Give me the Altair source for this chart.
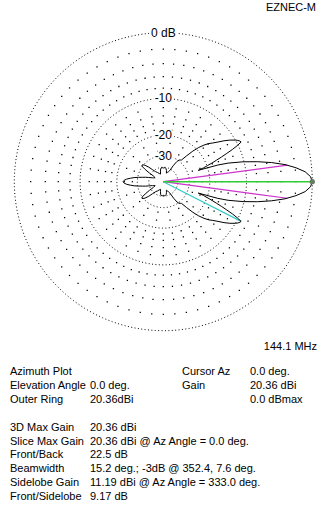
import altair as alt
import pandas as pd
import numpy as np

# ---------------- data ----------------
# azimuth pattern (symmetric about 0 deg), dB relative to max (20.36 dBi)
az_half = [0, 2, 4, 6, 8, 10, 12, 14, 16, 17, 18, 19, 20, 21, 22, 23, 24, 25, 26, 27,
           28, 29, 30, 32, 34, 36, 38, 40, 42, 44, 46, 48, 50, 52, 54, 56, 58, 60, 62,
           66, 70, 74, 78, 82, 86, 90, 94, 98, 102, 106, 110, 116, 122, 128, 132, 135,
           138, 140, 142, 144, 146, 148, 150, 154, 158, 160, 162, 164, 166, 168, 170,
           172, 174, 176, 178, 180]
db_half = [0, -0.2, -0.8, -1.9, -3.3, -5.2, -7.5, -10.2, -13.6, -16.5, -24, -21.5, -19.8,
           -18, -16.4, -14.7, -13.1, -11.5, -10.2, -9.17, -9.3, -9.6, -10.0, -11.0, -12.2,
           -13.6, -14.8, -15.8, -17.2, -19, -21.5, -25, -28.5, -29, -29.5, -31, -35, -42,
           -44, -46, -48, -44, -41.5, -40.5, -40.5, -41, -40.5, -40.5, -42, -46, -50, -48,
           -45, -42, -38, -34, -31, -29.8, -29.3, -29.8, -33, -38, -44, -48, -46, -44, -42,
           -39, -36, -33.5, -30.5, -27.8, -25.8, -24, -22.9, -22.5]

ring_db = [0, -10, -20, -30, -40]
ring_labels = ["0 dB", "-10", "-20", "-30"]
# fine dot grid levels
grid_outer_db = [-2, -4, -6, -8]
grid_mid_db = [-12, -14, -16, -18]
grid_inner_db = [-23, -27]

cursor = {"az": 0.0, "db": 0.0}
beam_az = [352.4, 7.6]
beam_db = -3.0
side_az = 333.0
side_db = -9.17

freq_text = "144.1 MHz"
brand_text = "EZNEC-M"
info1_labels = ["Azimuth Plot", "Elevation Angle", "Outer Ring"]
info1_values = ["", "0.0 deg.", "20.36dBi"]
info2_labels = ["Cursor Az", "Gain", ""]
info2_values = ["0.0 deg.", "20.36 dBi", "0.0 dBmax"]
info3_labels = ["3D Max Gain", "Slice Max Gain", "Front/Back", "Beamwidth",
                "Sidelobe Gain", "Front/Sidelobe"]
info3_values = ["20.36 dBi", "20.36 dBi @ Az Angle = 0.0 deg.", "22.5 dB",
                "15.2 deg.; -3dB @ 352.4, 7.6 deg.",
                "11.19 dBi @ Az Angle = 333.0 deg.", "9.17 dB"]

# ---------------- helpers ----------------
W, H = 330, 513
R_PX = 149.0
CX, CY = 163.3, 181.7
FONT = "Liberation Sans"


def rad(db):
    # ARRL log scale
    return 0.89 ** (-np.asarray(db, dtype=float) / 2.0)


def pol(az, db):
    r = rad(db)
    a = np.deg2rad(np.asarray(az, dtype=float))
    return r * np.cos(a), r * np.sin(a)


xs = alt.Scale(domain=[-CX / R_PX, (W - CX) / R_PX], nice=False, zero=False)
ys = alt.Scale(domain=[-(H - CY) / R_PX, CY / R_PX], nice=False, zero=False)
X = lambda f: alt.X(f, type="quantitative", scale=xs, axis=None)
Y = lambda f: alt.Y(f, type="quantitative", scale=ys, axis=None)

# pattern (mirror)
full_az = list(az_half) + [360 - a for a in reversed(az_half[1:-1])] + [0]
full_db = list(db_half) + list(reversed(db_half[1:-1])) + [db_half[0]]
px, py = pol(full_az, full_db)
pat = pd.DataFrame({"x": px, "y": py, "o": range(len(px))})

# dense rings
th = np.arange(0, 361, 1.0)
rows = []
for d in ring_db:
    x, y = pol(th, [d] * len(th))
    rows += [{"x": a, "y": b, "ring": str(d), "o": i} for i, (a, b) in enumerate(zip(x, y))]
rings = pd.DataFrame(rows)

# fine dot grid
rows = []
for levels, step in ((grid_outer_db, 5), (grid_mid_db, 10), (grid_inner_db, 20)):
    for d in levels:
        for a in np.arange(0, 360, step):
            x, y = pol([a], [d])
            rows.append({"x": x[0], "y": y[0]})
dots = pd.DataFrame(rows)


def ray(az, db, name):
    x, y = pol([az], [db])
    return pd.DataFrame({"x": [0, x[0]], "y": [0, y[0]], "ray": name, "o": [0, 1]})


rays_m = pd.concat([ray(beam_az[0], beam_db, "b1"), ray(beam_az[1], beam_db, "b2")])
ray_c = ray(side_az, side_db, "s")
ray_g = ray(cursor["az"], cursor["db"], "c")
tip = ray_g.iloc[[1]]

base_enc = dict(x=X("x"), y=Y("y"), order="o:Q")

layers = []
layers.append(alt.Chart(dots).mark_point(filled=True, shape="square", size=1.6, color="#000",
                                         opacity=1, strokeWidth=0)
              .encode(x=X("x"), y=Y("y")))
layers.append(alt.Chart(rings).mark_line(color="#000", strokeWidth=1, strokeDash=[1, 2.4])
              .encode(detail="ring:N", **base_enc))

# ring labels
lab_df = pd.DataFrame({"lab": ring_labels, "x": [0] * 4,
                       "y": [float(rad(d)) for d in ring_db[:4]]})
for stroke in (True, False):
    kw = dict(stroke="white", strokeWidth=4) if stroke else {}
    layers.append(alt.Chart(lab_df).mark_text(font=FONT, fontSize=12, color="#000",
                                               baseline="middle", align="center", **kw)
                  .encode(x=X("x"), y=Y("y"), text="lab:N"))

layers.append(alt.Chart(rays_m).mark_line(color="#cc33cc", strokeWidth=1.2)
              .encode(detail="ray:N", **base_enc))
layers.append(alt.Chart(ray_c).mark_line(color="#33cccc", strokeWidth=1.2).encode(**base_enc))
layers.append(alt.Chart(ray_g).mark_line(color="#33cc33", strokeWidth=1.4).encode(**base_enc))
layers.append(alt.Chart(pat).mark_line(color="#000", strokeWidth=1).encode(**base_enc))
layers.append(alt.Chart(tip).mark_point(filled=True, shape="circle", size=28, color="#667a66", opacity=1)
              .encode(x=X("x"), y=Y("y")))


def txt(s, x, y, align="left"):
    return alt.Chart(pd.DataFrame({"t": [s]})).mark_text(
        font=FONT, fontSize=11, color="#000", align=align, baseline="middle"
    ).encode(x=alt.value(x), y=alt.value(y), text="t:N")


layers.append(txt(brand_text, 316, 8, "right"))
layers.append(txt(freq_text, 317, 347, "right"))
for i in range(3):
    yy = 371.5 + i * 14
    layers.append(txt(info1_labels[i], 10, yy))
    if info1_values[i]:
        layers.append(txt(info1_values[i], 90, yy))
    if info2_labels[i]:
        layers.append(txt(info2_labels[i], 182, yy))
    layers.append(txt(info2_values[i], 250, yy))
for i in range(6):
    yy = 427.7 + i * 13.8
    layers.append(txt(info3_labels[i], 10, yy))
    layers.append(txt(info3_values[i], 90, yy))

chart = alt.layer(*layers).properties(
    width=W, height=H, padding=0, autosize=alt.AutoSizeParams(type="none"), background="white"
).configure_view(stroke=None)

chart.save("out.html", embed_options={"renderer": "svg", "actions": False})
